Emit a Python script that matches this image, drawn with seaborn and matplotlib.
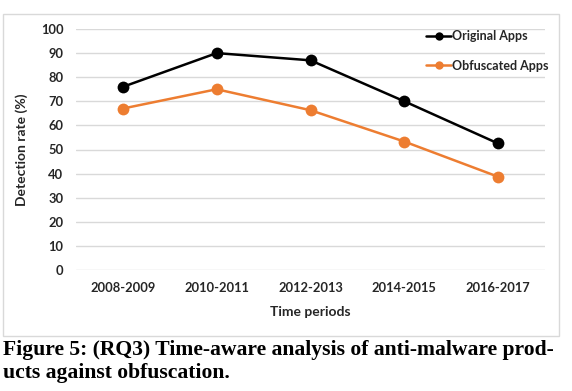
import pandas as pd
import numpy as np
import matplotlib
matplotlib.use('Agg')
import matplotlib.pyplot as plt
import seaborn as sns
from matplotlib.patches import Rectangle

# data
periods = ['2008-2009', '2010-2011', '2012-2013', '2014-2015', '2016-2017']
original_apps = [76, 90, 87, 70, 52.5]
obfuscated_apps = [67, 75, 66.3, 53.3, 38.7]
series_names = ['Original Apps', 'Obfuscated Apps']
y_ticks = [0, 10, 20, 30, 40, 50, 60, 70, 80, 90, 100]

df = pd.DataFrame({
    'period': periods * 2,
    'rate': original_apps + obfuscated_apps,
    'series': [series_names[0]] * len(periods) + [series_names[1]] * len(periods),
})

# setup
sns.set_theme(style='white')
plt.rcParams['font.family'] = ['Lato', 'DejaVu Sans']
plt.rcParams['font.weight'] = 'bold'

W, H = 572, 391
fig = plt.figure(figsize=(W / 100, H / 100), dpi=100)
fig.patch.set_facecolor('white')

# chart frame
fig.patches.append(Rectangle((3 / W, 1 - 336 / H), 556 / W, 322 / H,
                             transform=fig.transFigure, fill=False,
                             edgecolor='#d9d9d9', linewidth=1))

ax = fig.add_axes([76 / W, 1 - 270 / H, 469 / W, 241 / H])
sns.lineplot(data=df, x='period', y='rate', hue='series', sort=False,
             palette={'Original Apps': 'black', 'Obfuscated Apps': '#ED7D31'},
             marker='o', markersize=8.5, markeredgewidth=0, linewidth=1.8,
             ax=ax)

ax.set_xlim(-0.5, 4.5)
ax.set_ylim(0, 100)
ax.set_yticks(y_ticks)
ax.grid(axis='y', color='#d9d9d9', linewidth=1)
ax.set_axisbelow(True)
for s in ax.spines.values():
    s.set_visible(False)
ax.tick_params(axis='both', length=0, labelsize=9.3, colors='#262626')
ax.tick_params(axis='y', pad=9)
ax.tick_params(axis='x', pad=9)
for lbl in ax.get_xticklabels() + ax.get_yticklabels():
    lbl.set_fontweight('bold')

ax.set_xlabel('Time periods', fontsize=10, fontweight='bold', color='#262626', labelpad=8)
ax.set_ylabel('Detection rate (%)', fontsize=10, fontweight='bold', color='#262626', labelpad=9)

handles, labels = ax.get_legend_handles_labels()
leg = ax.legend(handles, labels, loc='upper left', bbox_to_anchor=(415 / W, 1 - 19 / H),
                bbox_transform=fig.transFigure, frameon=False, handlelength=2.0,
                handletextpad=0.1, labelspacing=1.4, prop={'size': 9, 'weight': 'bold'})
for h in leg.legend_handles:
    h.set_markersize(6)

# caption
cap_font = ['Liberation Serif', 'DejaVu Serif']
fig.text(3 / W, 1 - 355 / H, 'Figure 5: (RQ3) Time-aware analysis of anti-malware prod-',
         fontsize=15.6, fontweight='bold', family=cap_font, color='black', va='baseline')
fig.text(3 / W, 1 - 378 / H, 'ucts against obfuscation.',
         fontsize=15.6, fontweight='bold', family=cap_font, color='black', va='baseline')

fig.savefig('out.png', dpi=100)
